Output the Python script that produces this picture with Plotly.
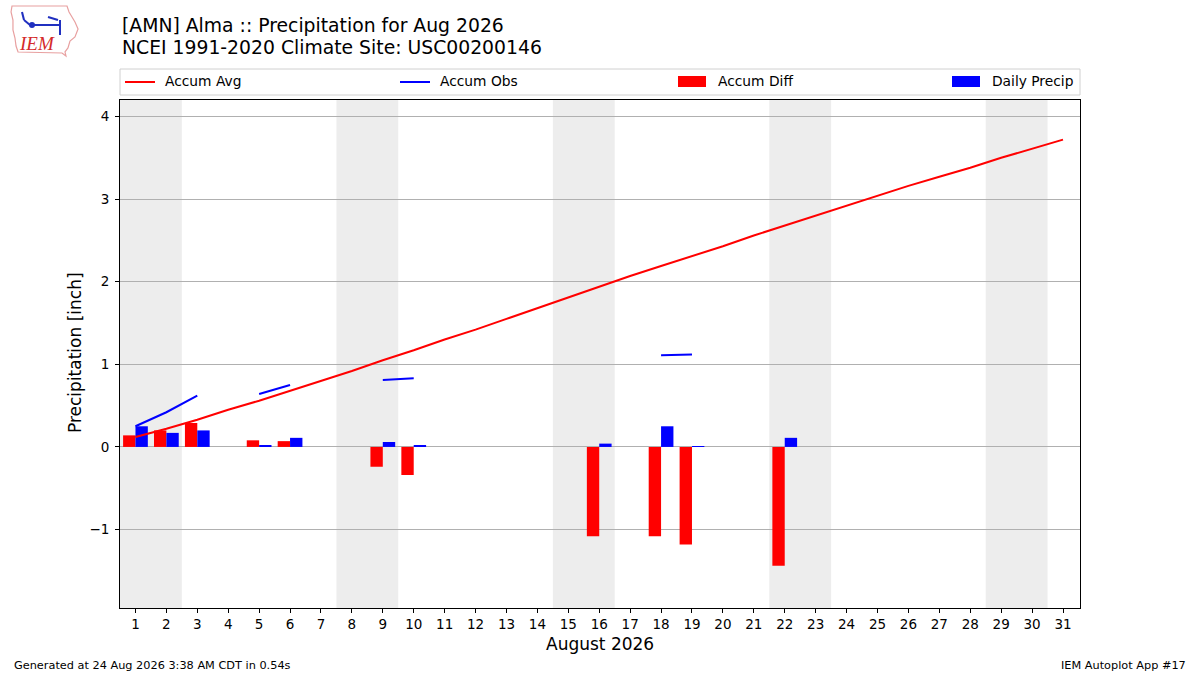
import plotly.graph_objects as go

# August 2026 daily values (inches)
days = list(range(1, 32))
accum_avg = [0.12, 0.22, 0.33, 0.45, 0.56, 0.68, 0.80, 0.92, 1.05, 1.17,
             1.30, 1.42, 1.55, 1.68, 1.81, 1.94, 2.07, 2.19, 2.31, 2.43,
             2.56, 2.68, 2.80, 2.92, 3.04, 3.16, 3.27, 3.38, 3.50, 3.61, 3.72]
daily_precip = [0.25, 0.17, 0.20, None, 0.02, 0.11, None, None, 0.06, 0.02,
                None, None, None, None, None, 0.04, None, 0.25, 0.01, None,
                None, 0.11, None, None, None, None, None, None, None, None, None]
accum_obs = [0.25, 0.42, 0.62, None, 0.64, 0.75, None, None, 0.81, 0.83,
             None, None, None, None, None, 0.87, None, 1.11, 1.12, None,
             None, 1.23, None, None, None, None, None, None, None, None, None]
accum_diff = [0.14, 0.20, 0.29, None, 0.08, 0.07, None, None, -0.24, -0.34,
              None, None, None, None, None, -1.08, None, -1.08, -1.18, None,
              None, -1.44, None, None, None, None, None, None, None, None, None]
weekend_days = [1, 2, 8, 9, 15, 16, 22, 23, 29, 30]
y_ticks = [-1, 0, 1, 2, 3, 4]
series_names = ['Accum Avg', 'Accum Obs', 'Accum Diff', 'Daily Precip']
series_colors = ['red', 'blue', 'red', 'blue']

W, H = 1200, 675
L, R, T, B = 120, 1080, 100, 608
FONT = 'DejaVu Sans'


def px(x, y):
    """pixel position -> paper coords"""
    return (x - L) / (R - L), (B - y) / (B - T)


def note(x, y, text, size, xanchor='left', **kw):
    xx, yy = px(x, y)
    fig.add_annotation(x=xx, y=yy, xref='paper', yref='paper', text=text,
                       showarrow=False, xanchor=xanchor, yanchor='middle',
                       font=dict(family=kw.pop('family', FONT), size=size,
                                 color=kw.pop('color', 'black')), **kw)


fig = go.Figure()

fig.add_trace(go.Scatter(x=days, y=accum_avg, mode='lines', name=series_names[0],
                         line=dict(color=series_colors[0], width=2)))
fig.add_trace(go.Scatter(x=days, y=accum_obs, mode='lines', name=series_names[1],
                         line=dict(color=series_colors[1], width=2), connectgaps=False))
fig.add_trace(go.Bar(x=days, y=accum_diff, name=series_names[2],
                     marker=dict(color=series_colors[2], line=dict(width=0))))
fig.add_trace(go.Bar(x=days, y=daily_precip, name=series_names[3],
                     marker=dict(color=series_colors[3], line=dict(width=0))))

# weekend shading, consecutive days merged into one band
bands = []
for d in weekend_days:
    if bands and d == bands[-1][1] + 1:
        bands[-1][1] = d
    else:
        bands.append([d, d])
for first, last in bands:
    fig.add_shape(type='rect', xref='x', yref='paper', x0=first - 0.5, x1=last + 0.5,
                  y0=0, y1=1, fillcolor='#ededed', line=dict(width=0), layer='below')

# titles
note(120, 25, '[AMN] Alma :: Precipitation for Aug 2026', 18.8)
note(120, 48, 'NCEI 1991-2020 Climate Site: USC00200146', 18.8)

# axis titles
note(600, 644, 'August 2026', 17, xanchor='center')
note(75, 353, 'Precipitation [inch]', 17, xanchor='center', textangle=-90)

# footer
note(12, 665, 'Generated at 24 Aug 2026 3:38 AM CDT in 0.54s', 11.3)
note(1188, 665, 'IEM Autoplot App #17', 11.3, xanchor='right')

# legend, spread across the plot width like matplotlib's mode="expand"
x0, y0 = px(120, 69)
x1, y1 = px(1080, 95)
fig.add_shape(type='rect', xref='paper', yref='paper', x0=x0, y0=y0, x1=x1, y1=y1,
              line=dict(color='#d0d0d0', width=1), fillcolor='white')
entry_x = [125, 400, 678, 952]
for i, (name, color) in enumerate(zip(series_names, series_colors)):
    ex = entry_x[i]
    if i < 2:
        a, b = px(ex, 82)
        c, _ = px(ex + 30, 82)
        fig.add_shape(type='line', xref='paper', yref='paper', x0=a, y0=b, x1=c, y1=b,
                      line=dict(color=color, width=2))
    else:
        a, b = px(ex, 87)
        c, d = px(ex + 28, 76)
        fig.add_shape(type='rect', xref='paper', yref='paper', x0=a, y0=b, x1=c, y1=d,
                      fillcolor=color, line=dict(width=0))
    note(ex + 38, 81, name, 13.8)

# rough IEM logo
outline = [(12, 6), (67, 6), (69, 12), (72, 17), (75, 22), (78, 29), (75, 37),
           (70, 41), (68, 48), (65, 52), (66, 56), (62, 53), (18, 52), (16, 46),
           (15, 38), (13, 30), (13, 20), (11, 12)]
path = 'M ' + ' L '.join('%.4f,%.4f' % px(a, b) for a, b in outline) + ' Z'
fig.add_shape(type='path', xref='paper', yref='paper', path=path,
              line=dict(color='#e8a0a0', width=1.2), fillcolor='rgba(0,0,0,0)')
note(37, 44, '<i>IEM</i>', 19, xanchor='center', family='Liberation Serif', color='#d42a2a')
for seg in [[(30, 25), (60, 25)], [(48, 17), (58, 20)], [(22, 12), (24, 20)],
            [(60, 20), (60, 35)], [(24, 20), (30, 25)]]:
    (a0, b0), (a1, b1) = px(*seg[0]), px(*seg[1])
    fig.add_shape(type='line', xref='paper', yref='paper', x0=a0, y0=b0, x1=a1, y1=b1,
                  line=dict(color='#2030c0', width=2))
a, b = px(29, 22)
c, d = px(35, 28)
fig.add_shape(type='circle', xref='paper', yref='paper', x0=a, y0=b, x1=c, y1=d,
              fillcolor='#2030c0', line=dict(width=0))

fig.update_layout(
    width=W, height=H,
    margin=dict(l=L, r=W - R, t=T, b=H - B),
    paper_bgcolor='white', plot_bgcolor='white',
    barmode='group', bargap=0.2, bargroupgap=0,
    font=dict(family=FONT, size=13.5, color='black'),
    showlegend=False,
    xaxis=dict(range=[0.5, 31.55], tickvals=days, ticktext=[str(d) for d in days],
               showgrid=False, zeroline=False, showline=True, linecolor='black',
               linewidth=1, mirror=True, ticks='outside', ticklen=4, tickcolor='black',
               tickfont=dict(size=13.5)),
    yaxis=dict(range=[-1.95, 4.2], tickvals=y_ticks, showgrid=True, gridcolor='#b0b0b0',
               gridwidth=1, zeroline=False, showline=True, linecolor='black',
               linewidth=1, mirror=True, ticks='outside', ticklen=4, tickcolor='black',
               ticklabelstandoff=3, tickfont=dict(size=13.5)),
)

fig.write_html('out.html', config={'displayModeBar': False},
               post_script="document.body.style.margin='0';")
